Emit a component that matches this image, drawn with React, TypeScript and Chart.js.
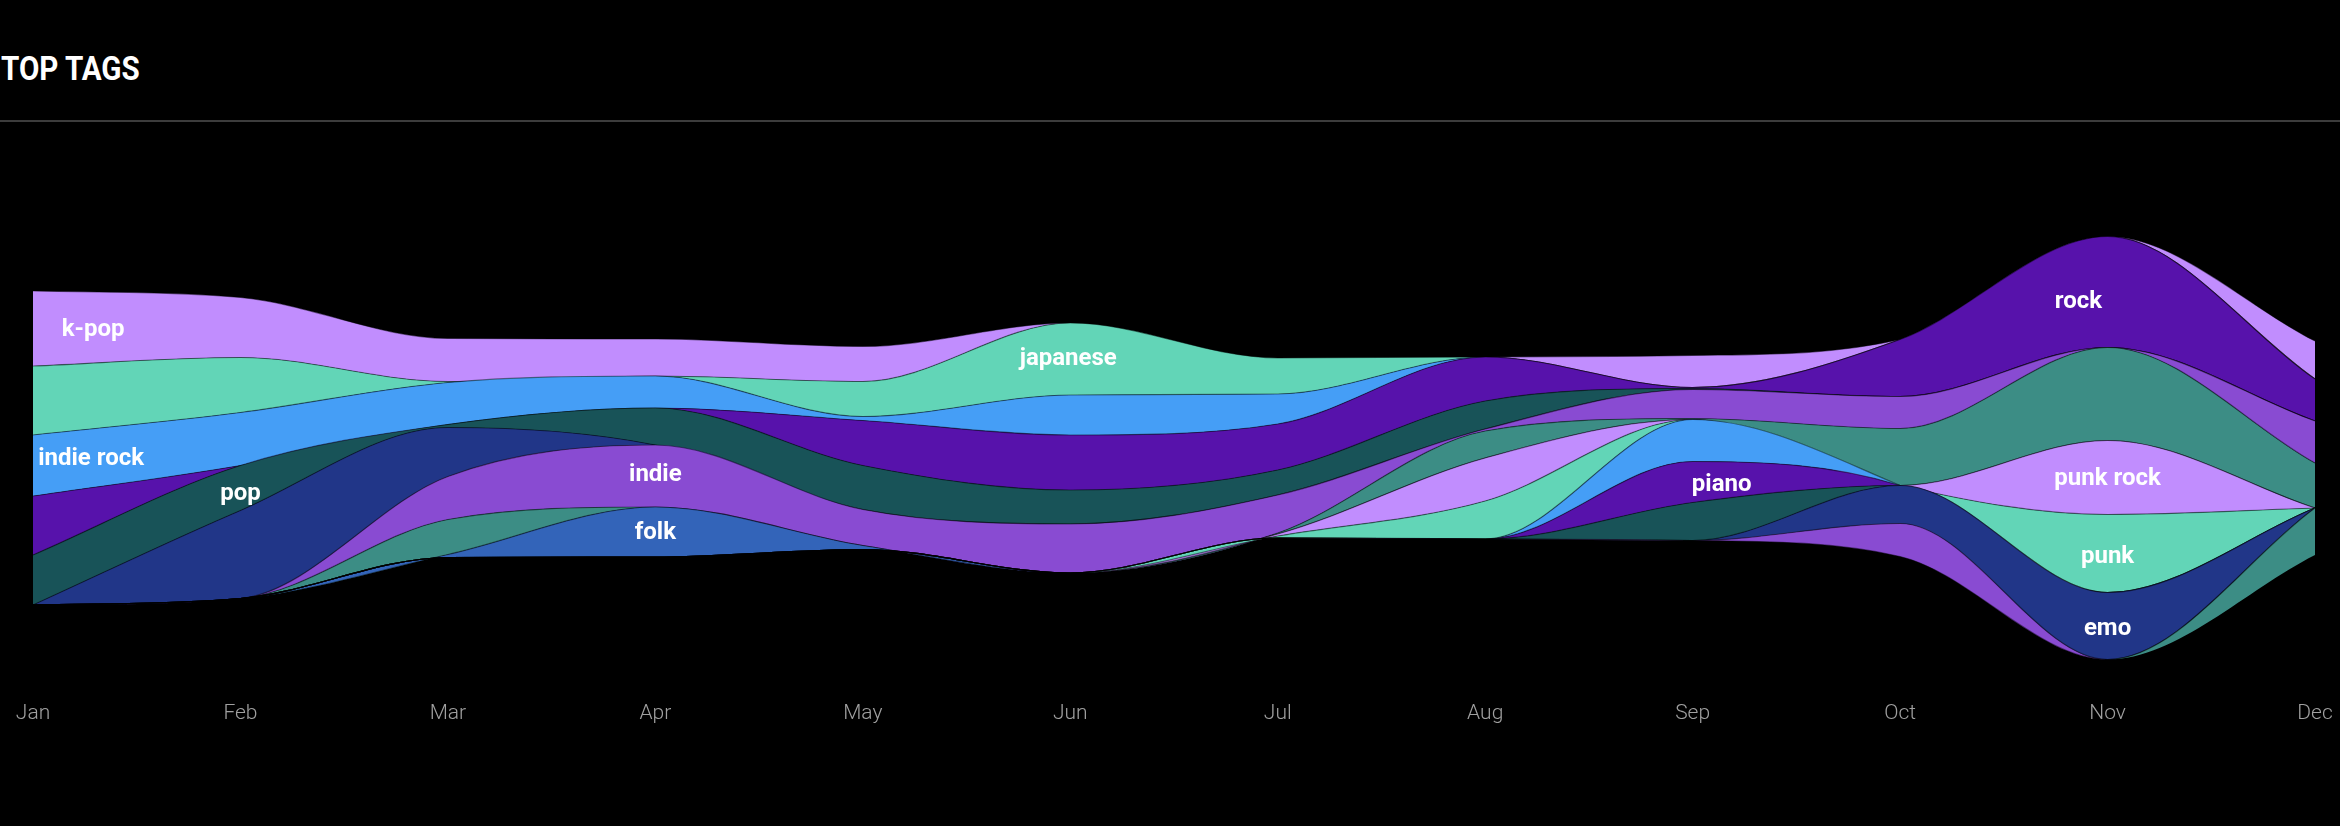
import React, { useEffect, useRef } from "react";
import { Chart, registerables } from "chart.js";

Chart.register(...registerables);

// ---- data (values per month, stack order listed top to bottom) ----
const MONTHS = ["Jan", "Feb", "Mar", "Apr", "May", "Jun", "Jul", "Aug", "Sep", "Oct", "Nov", "Dec"];

const KPOP = [75, 60, 43, 37, 35, 0, 0, 0, 32, 0, 0, 38];
const JAPANESE = [69, 55, 1, 0, 35, 72, 36, 0, 0, 0, 0, 0];
const INDIE_ROCK = [61, 53, 42, 32, 4, 40, 30, 0, 0, 0, 0, 0];
const ROCK = [59, 0, 0, 0, 45, 55, 46, 44, 1, 57, 111, 42];
const POP = [50, 45, 3, 37, 44, 34, 25, 28, 1, 0, 0, 0];
const ALTERNATIVE = [0, 88, 49, 0, 0, 0, 0, 0, 0, 0, 0, 0];
const INDIE = [0, 0, 43, 62, 36, 49, 38, 2, 29, 32, 0, 42];
const ELECTRONIC = [0, 0, 35, 0, 0, 0, 1, 27, 1, 57, 93, 45];
const FOLK = [0, 0, 3, 50, 4, 0, 0, 0, 0, 0, 0, 0];
const PUNK_ROCK = [0, 0, 0, 0, 0, 0, 2, 43, 0, 0, 74, 0];
const PUNK = [0, 0, 0, 0, 0, 0, 2, 38, 0, 0, 78, 0];
const INDIE_POP = [0, 0, 0, 0, 0, 0, 0, 0, 42, 0, 0, 0];
const PIANO = [0, 0, 0, 0, 0, 0, 0, 0, 41, 0, 0, 0];
const AMBIENT = [0, 0, 0, 0, 0, 0, 0, 0, 38, 0, 0, 0];
const EMO = [0, 0, 0, 0, 0, 0, 0, 0, 0, 38, 67, 0];
const POP_PUNK = [0, 0, 0, 0, 0, 0, 0, 0, 0, 33, 0, 0];
const HARDCORE = [0, 0, 0, 0, 0, 0, 0, 0, 0, 0, 0, 47];

const TAG_NAMES = [
  "k-pop", "japanese", "indie rock", "rock", "pop", "alternative", "indie", "electronic", "folk",
  "punk rock", "punk", "indie pop", "piano", "ambient", "emo", "pop punk", "hardcore",
];
const TAG_VALUES = [
  KPOP, JAPANESE, INDIE_ROCK, ROCK, POP, ALTERNATIVE, INDIE, ELECTRONIC, FOLK,
  PUNK_ROCK, PUNK, INDIE_POP, PIANO, AMBIENT, EMO, POP_PUNK, HARDCORE,
];

const PALETTE = [
  "#c18dfe", "#62d5b7", "#459ef6", "#5712ab", "#185358",
  "#213688", "#894bd2", "#3c8d85", "#3364b9",
];

// label anchors: [text, month position, value]
const LABELS: [string, number, number][] = [
  ["k-pop", 0.29, 118],
  ["indie rock", 0.28, -11],
  ["pop", 1.0, -46],
  ["indie", 3.0, -27],
  ["folk", 3.0, -85],
  ["japanese", 4.99, 89],
  ["piano", 8.14, -37],
  ["rock", 9.86, 146],
  ["punk rock", 10.0, -31],
  ["punk", 10.0, -109],
  ["emo", 10.0, -181],
];

const labelPlugin = {
  id: "streamLabels",
  afterDatasetsDraw(chart: any) {
    const { ctx, scales } = chart;
    const xs = scales.x;
    const ys = scales.y;
    ctx.save();
    ctx.font = "bold 24px Roboto";
    ctx.fillStyle = "#ffffff";
    ctx.textAlign = "center";
    ctx.textBaseline = "middle";
    for (const [t, xi, v] of LABELS) {
      ctx.fillText(t, xs.getPixelForValue(xi), ys.getPixelForValue(v));
    }
    ctx.restore();
  },
};

export default function App() {
  const ref = useRef<HTMLCanvasElement | null>(null);

  useEffect(() => {
    document.body.style.margin = "0";
    document.body.style.background = "#000";
    if (!ref.current) return;

    const totals = MONTHS.map((_, m) => TAG_VALUES.reduce((s, arr) => s + arr[m], 0));
    // silhouette offset: centre the stream around zero
    let lower = totals.map((t) => -t / 2);
    const datasets: any[] = [
      {
        label: "baseline",
        data: lower.slice(),
        fill: false,
        borderWidth: 0,
        pointRadius: 0,
        cubicInterpolationMode: "monotone",
      },
    ];
    for (let i = TAG_VALUES.length - 1; i >= 0; i--) {
      const vals = TAG_VALUES[i];
      const upper = lower.map((l, m) => l + vals[m]);
      datasets.push({
        label: TAG_NAMES[i],
        data: upper,
        fill: "-1",
        backgroundColor: PALETTE[i % PALETTE.length],
        borderColor: "rgba(0,0,0,0.45)",
        borderWidth: 1.2,
        pointRadius: 0,
        cubicInterpolationMode: "monotone",
      });
      lower = upper;
    }

    const chart = new Chart(ref.current, {
      type: "line",
      data: { labels: MONTHS, datasets },
      plugins: [labelPlugin],
      options: {
        responsive: false,
        animation: false,
        devicePixelRatio: 1,
        layout: { padding: { left: 33, right: 25, top: 0, bottom: 0 } },
        plugins: { legend: { display: false }, tooltip: { enabled: false } },
        scales: {
          x: {
            type: "category",
            offset: false,
            grid: { display: false, drawTicks: false },
            border: { display: false },
            ticks: {
              color: "#a0a0a0",
              font: { family: "Roboto", size: 21, weight: "300" },
              padding: 0,
              maxRotation: 0,
              autoSkip: false,
            },
            afterFit(scale: any) {
              scale.height = 125;
            },
          },
          y: { display: false, min: -253, max: 308 },
        },
      },
    });
    return () => chart.destroy();
  }, []);

  return (
    <div style={{ position: "relative", width: 2340, height: 826, background: "#000", overflow: "hidden" }}>
      <div
        style={{
          position: "absolute",
          top: 51,
          left: 1,
          fontFamily: "Roboto",
          fontWeight: 700,
          fontSize: 34,
          lineHeight: "34px",
          color: "#fff",
          transform: "scaleX(0.87)",
          transformOrigin: "left center",
          whiteSpace: "nowrap",
        }}
      >
        TOP TAGS
      </div>
      <div style={{ position: "absolute", top: 120, left: 0, width: 2340, height: 2, background: "#3c3c3c" }} />
      <canvas
        ref={ref}
        width={2340}
        height={686}
        style={{ position: "absolute", top: 140, left: 0, width: 2340, height: 686 }}
      />
    </div>
  );
}
